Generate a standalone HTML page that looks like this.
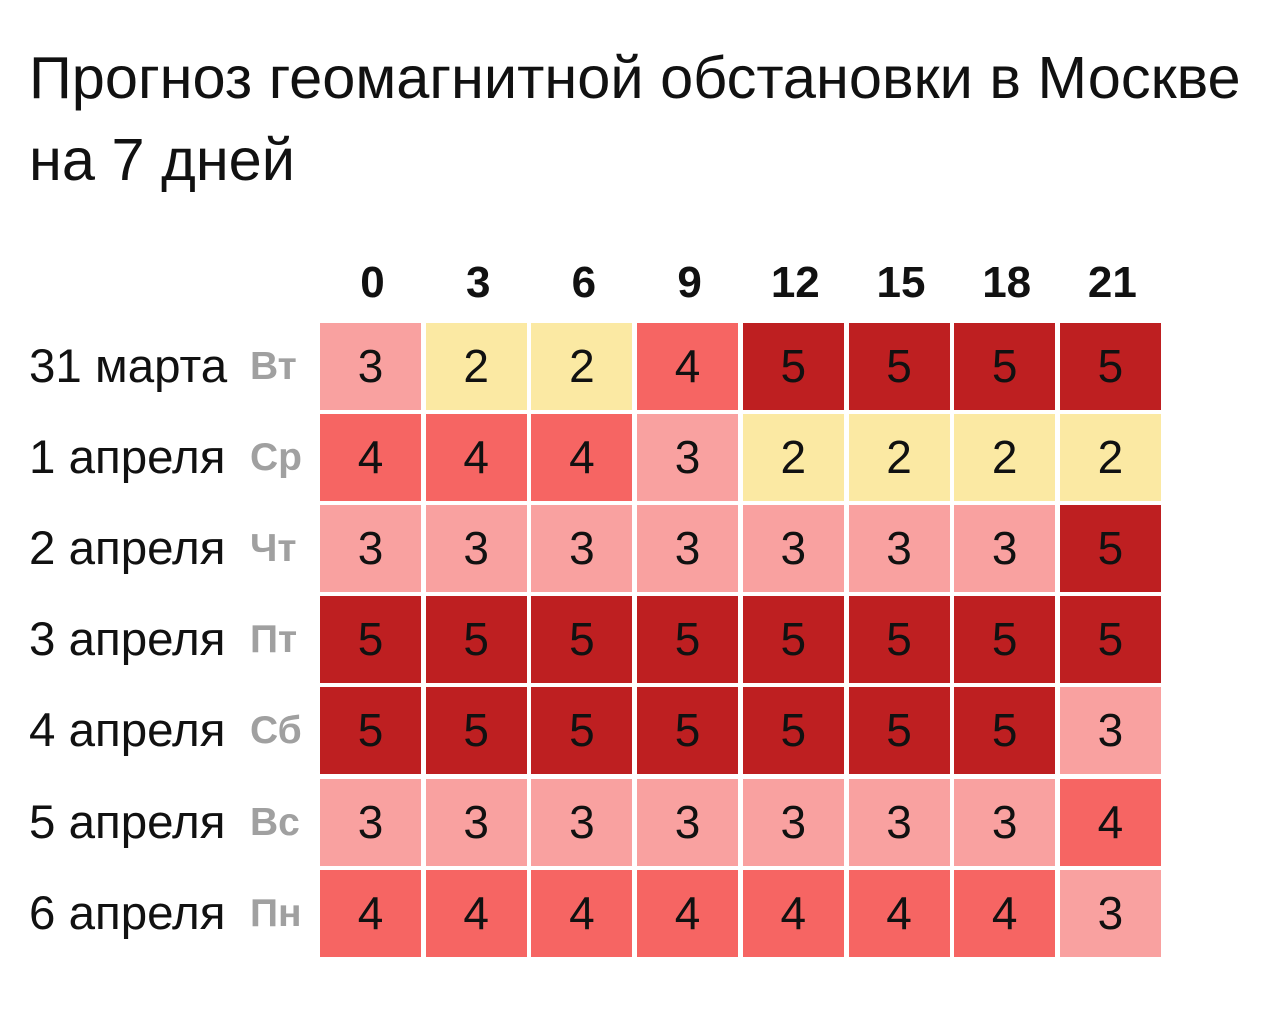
<!DOCTYPE html>
<html><head><meta charset="utf-8"><style>
body{margin:0;width:1280px;height:1018px;background:#fff;font-family:"Liberation Sans",sans-serif;position:relative;overflow:hidden}
.t{position:absolute;left:29px;top:37px;font-size:59.5px;line-height:82px;color:#111}
.h{position:absolute;top:258px;width:105px;text-align:center;font-weight:bold;font-size:44px;color:#111}
.l{position:absolute;left:29px;font-size:47.5px;color:#111;height:87px;line-height:87px}
.d{position:absolute;left:250px;font-size:39px;font-weight:bold;color:#a0a0a0;height:87px;line-height:87px}
.c{position:absolute;width:101px;height:87px;line-height:87px;text-align:center;font-size:46px;color:#111}
.v2{background:#fbe9a3}.v3{background:#f9a1a0}.v4{background:#f66563}.v5{background:#be1f21}
</style></head><body>
<div class="t">Прогноз геомагнитной обстановки в Москве<br>на 7 дней</div>
<div id="g"></div>
<script>
var hs=[0,3,6,9,12,15,18,21];
var L=["31 марта","1 апреля","2 апреля","3 апреля","4 апреля","5 апреля","6 апреля"];
var D=["Вт","Ср","Чт","Пт","Сб","Вс","Пн"];
var V=["32245555","44432222","33333335","55555555","55555553","33333334","44444443"];
var h="";
for(var i=0;i<8;i++)h+='<div class="h" style="left:'+(320+i*105.7)+'px">'+hs[i]+'</div>';
for(var r=0;r<7;r++){var y=323+r*91.1;
h+='<div class="l" style="top:'+y+'px">'+L[r]+'</div><div class="d" style="top:'+y+'px">'+D[r]+'</div>';
for(var i=0;i<8;i++)h+='<div class="c v'+V[r][i]+'" style="left:'+(320+i*105.7)+'px;top:'+y+'px">'+V[r][i]+'</div>';}
document.getElementById("g").innerHTML=h;
</script>
</body></html>
